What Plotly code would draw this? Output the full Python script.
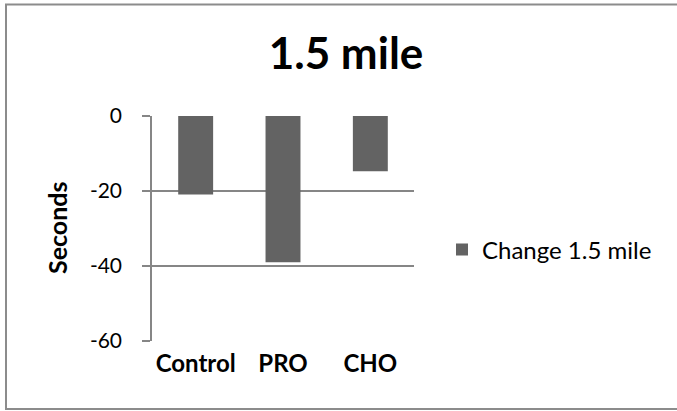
import plotly.graph_objects as go

categories = ["Control", "PRO", "CHO"]
values = [-20.9, -39.0, -14.7]
series_name = "Change 1.5 mile"
y_ticks = [0, -20, -40, -60]

FONT = "Lato"
GRAY = "#868686"
BAR = "#636363"

L, R, T, B = 152, 414, 116, 341
PW, PH = R - L, B - T


def px(x):
    return (x - L) / PW


def py(y):
    return (B - y) / PH


border = dict(color="#8c8c8c", width=2)

fig = go.Figure()
fig.add_trace(go.Bar(
    x=categories, y=values, name=series_name,
    marker=dict(color=BAR, line=dict(width=0)),
    width=0.4, showlegend=True,
))

fig.update_layout(
    width=677, height=411,
    margin=dict(l=L, r=677 - R, t=T, b=411 - B),
    paper_bgcolor="white", plot_bgcolor="white",
    font=dict(family=FONT, color="black"),
    title=dict(text="<b>1.5 mile</b>", x=346 / 677, xanchor="center",
               y=1 - 54 / 411, yanchor="middle", font=dict(size=44, family=FONT)),
    showlegend=True,
    legend=dict(x=px(442), y=py(250), xanchor="left", yanchor="middle",
                font=dict(size=24, family=FONT), bgcolor="rgba(0,0,0,0)",
                itemwidth=30),
    shapes=[
        dict(type="line", xref="paper", yref="paper", x0=px(6), x1=px(6),
             y0=py(409), y1=py(4.5), line=border, layer="below"),
        dict(type="line", xref="paper", yref="paper", x0=px(5), x1=px(677),
             y0=py(4.5), y1=py(4.5), line=border, layer="below"),
        dict(type="line", xref="paper", yref="paper", x0=px(5), x1=px(677),
             y0=py(409), y1=py(409), line=border, layer="below"),
    ],
    annotations=[dict(text="<b>Seconds</b>", xref="paper", yref="paper",
                      x=px(57), y=py(228), xanchor="center", yanchor="middle",
                      textangle=-90, showarrow=False, font=dict(size=25, family=FONT))],
)

fig.update_xaxes(
    showline=False, showgrid=False, ticks="",
    tickfont=dict(size=24, family=FONT),
    tickprefix="<b>", ticksuffix="</b>",
    ticklabelstandoff=6,
)
fig.update_yaxes(
    range=[-60, 0], tickvals=y_ticks, ticktext=[str(v) for v in y_ticks],
    showgrid=True, gridcolor=GRAY, gridwidth=1.5,
    showline=True, linecolor=GRAY, linewidth=1.5,
    ticks="outside", ticklen=8, tickcolor=GRAY, tickwidth=1.5,
    tickfont=dict(size=21, family=FONT),
    ticklabelstandoff=16,
    zeroline=False,
)

fig.write_html("out.html", config={"displayModeBar": False},
               post_script="document.body.style.margin='0px';document.body.style.overflow='hidden';")
